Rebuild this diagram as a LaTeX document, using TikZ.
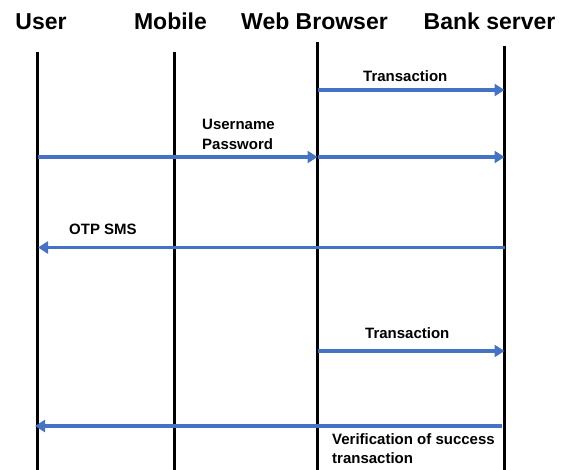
\documentclass[tikz,border=0pt]{standalone}
\usepackage{fontspec}
\setmainfont{Liberation Sans}
\usetikzlibrary{arrows.meta}
\definecolor{msgblue}{HTML}{4472C4}
\tikzset{
  title/.style={font=\fontsize{23}{27}\selectfont\bfseries, inner sep=0pt, anchor=base},
  lbl/.style={font=\fontsize{15}{19.5}\selectfont\bfseries, inner sep=0pt, align=left},
  lifeline/.style={draw=black, line width=3pt},
  msg/.style={draw=msgblue, line width=3.5pt, -{Triangle[length=10pt,width=12pt]}}
}
\begin{document}
\begin{tikzpicture}[x=1pt,y=-1pt]
\useasboundingbox (0,0) rectangle (569,469);
% titles
\node[title] (tuser) at (41,29) {User};
\node[title] (tmob) at (170.5,29) {Mobile};
\node[title] (tweb) at (314.5,29) {Web Browser};
\node[title] (tbank) at (489.5,29) {Bank server};
% lifelines
\coordinate (utop) at (37.5,52);   \coordinate (ubot) at (37.5,470);
\coordinate (mtop) at (174.5,52);  \coordinate (mbot) at (174.5,470);
\coordinate (wtop) at (317.5,42);  \coordinate (wbot) at (317.5,470);
\coordinate (btop) at (504.5,46);  \coordinate (bbot) at (504.5,470);
\draw[lifeline] (utop) -- (ubot);
\draw[lifeline] (mtop) -- (mbot);
\draw[lifeline] (wtop) -- (wbot);
\draw[lifeline] (btop) -- (bbot);
% message points
\coordinate (w1) at (317.5,90);  \coordinate (b1) at (504.5,90);
\coordinate (u2) at (37.5,157);  \coordinate (w2) at (317.5,157); \coordinate (b2) at (504.5,157);
\coordinate (b3) at (504.5,247.5); \coordinate (u3) at (38,247.5);
\coordinate (w4) at (317.5,351); \coordinate (b4) at (504.5,351);
\coordinate (b5) at (502,426);   \coordinate (u5) at (35,426);
% messages
\draw[msg] (w1) -- (b1);
\draw[msg] (u2) -- (w2);
\draw[msg] (w2) -- (b2);
\draw[msg] (b3) -- (u3);
\draw[msg] (w4) -- (b4);
\draw[msg] (b5) -- (u5);
% labels
\node[lbl, anchor=base west] (l1) at (363,81) {Transaction};
\node[lbl, anchor=north west] (l2) at (202,119.3) {Username\\Password};
\node[lbl, anchor=base west] (l3) at (69,234) {OTP SMS};
\node[lbl, anchor=base west] (l4) at (365,338) {Transaction};
\node[lbl, anchor=north west] (l5) at (332,433.3) {Verification of success\\transaction};
\end{tikzpicture}
\end{document}
